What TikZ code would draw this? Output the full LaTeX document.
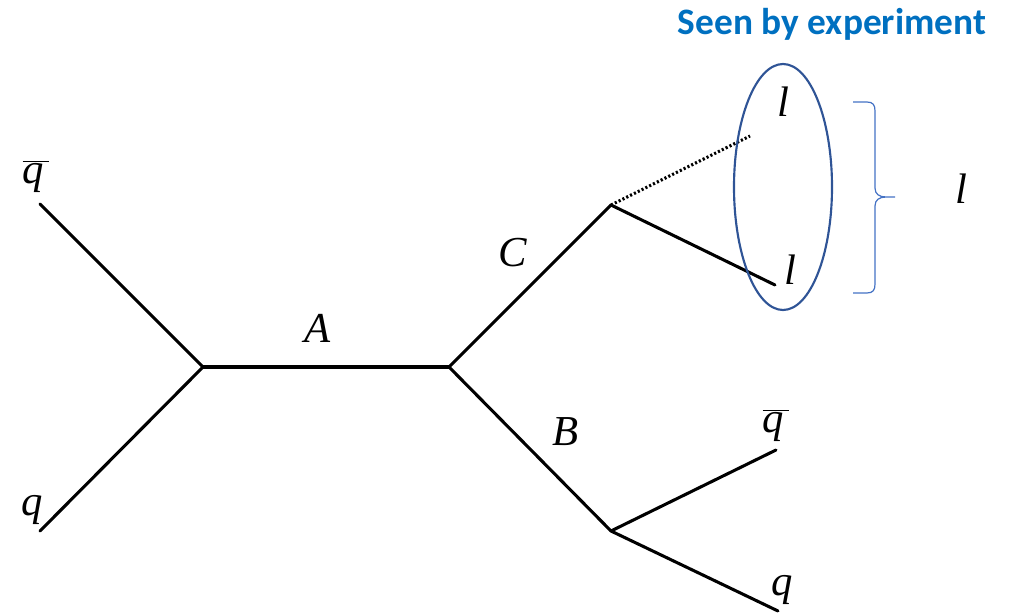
\documentclass[tikz,border=0pt]{standalone}
\usepackage{fontspec}
\setmainfont{Liberation Serif}
\newfontfamily\calib{Carlito}
\usetikzlibrary{calc}
\definecolor{seenblue}{RGB}{0,112,192}
\definecolor{ellblue}{RGB}{47,84,150}
\definecolor{braceblue}{RGB}{68,114,196}
\begin{document}
\begin{tikzpicture}[x=0.75pt,y=-0.75pt,
  prop/.style={line width=2.3pt,line cap=round},
  lbl/.style={anchor=base,inner sep=0pt,font=\fontsize{32}{32}\selectfont\itshape}]
\useasboundingbox (0,0) rectangle (1013,613);
% vertices and end points
\coordinate (qbL) at (40,204);
\coordinate (qL) at (40,531);
\coordinate (v1) at (203,367);
\coordinate (v2) at (449,367);
\coordinate (vC) at (611,205);
\coordinate (vB) at (611,531);
\coordinate (lt) at (750,136);
\coordinate (lb) at (775,285);
\coordinate (qbR) at (776,450);
\coordinate (qR) at (778,611);
% lines
\draw[prop] (qbL) -- (v1);
\draw[prop] (qL) -- (v1);
\draw[prop] (v1) -- (v2);
\draw[prop] (v2) -- (vC);
\draw[prop] (v2) -- (vB);
\draw[line width=2.3pt,dash pattern=on 1.6pt off 1.6pt] (vC) -- (lt);
\draw[prop] (vC) -- (lb);
\draw[prop] (vB) -- (qbR);
\draw[prop] (vB) -- (qR);
% labels
\node[lbl] (tqbL) at (36,183) {$\overline{\textit{q}\,}$};
\node[lbl] (tqL) at (32,515) {q};
\node[lbl] (tA) at (318,342) {A};
\node[lbl] (tC) at (513,266) {C};
\node[lbl] (tB) at (566,445) {B};
\node[lbl] (tlt) at (783,117) {l};
\node[lbl] (tlb) at (790,284) {l};
\node[lbl] (tlr) at (961,204) {l};
\node[lbl] (tqbR) at (776,432) {$\overline{\textit{q}\,}$};
\node[lbl] (tqR) at (782,595) {q};
% seen by experiment
\node[anchor=base,inner sep=0pt,text=seenblue,font=\calib\bfseries\fontsize{28}{28}\selectfont] (seen) at (832,35) {Seen by experiment};
% ellipse
\draw[ellblue,line width=1.6pt] (783,187) ellipse [x radius=49,y radius=123];
% brace
\draw[braceblue,line width=0.9pt] (853,102) -- (867,102) .. controls (873,102) and (875,105) .. (875,111)
  -- (875,188) .. controls (875,194) and (879,197) .. (886,197) -- (895,197)
  (886,197) .. controls (879,197) and (875,200) .. (875,206)
  -- (875,284) .. controls (875,290) and (873,293) .. (867,293) -- (853,293);
\end{tikzpicture}
\end{document}
